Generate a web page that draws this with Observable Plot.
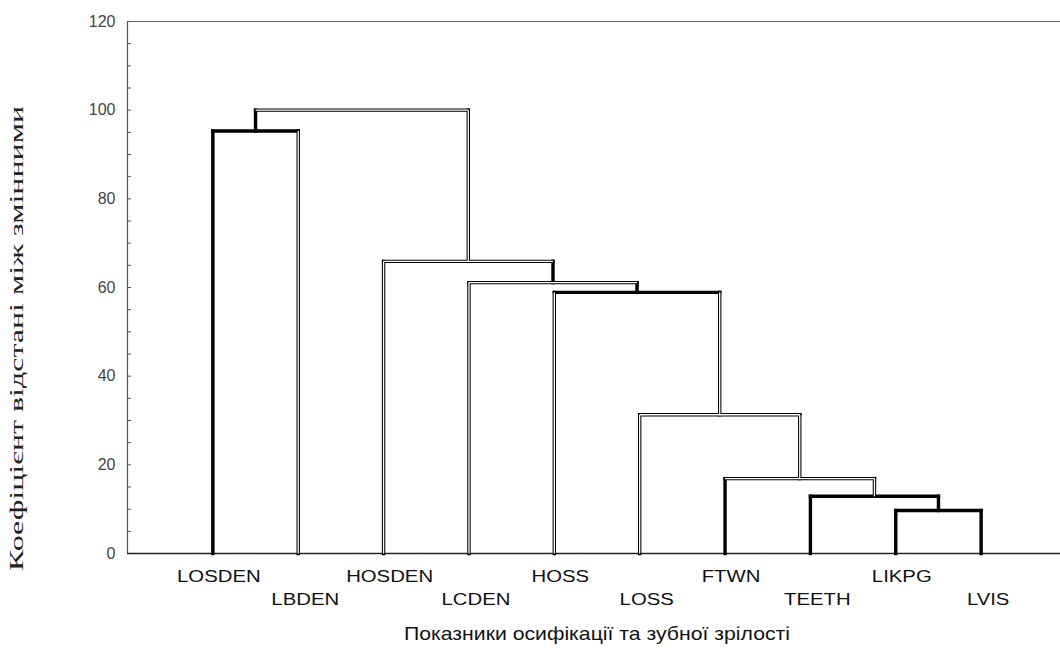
<!DOCTYPE html>
<html>
<head>
<meta charset="utf-8">
<script src="https://cdn.jsdelivr.net/npm/d3@7"></script>
<script src="https://cdn.jsdelivr.net/npm/@observablehq/plot@0.6"></script>
<style>
  body { margin: 0; background: #fff; }
  #chart svg { display: block; background: #fff; }
</style>
</head>
<body>
<div id="chart"></div>
<script>
// ---- data ----
const leaves = ["LOSDEN", "LBDEN", "HOSDEN", "LCDEN", "HOSS", "LOSS", "FTWN", "TEETH", "LIKPG", "LVIS"];
// agglomeration steps (cluster Ck is created by step k)
const mergeLeft   = ["LIKPG", "TEETH", "FTWN", "LOSS", "HOSS", "LCDEN", "HOSDEN", "LOSDEN", "C8"];
const mergeRight  = ["LVIS",  "C1",    "C2",   "C3",   "C4",   "C5",    "C6",     "LBDEN",  "C7"];
const mergeHeight = [9.7, 12.9, 16.9, 31.3, 58.9, 61.1, 65.9, 95.3, 100.0];
const yTickLabels = [0, 20, 40, 60, 80, 100, 120];
const yMinorTicks = [0, 5, 10, 15, 20, 25, 30, 35, 40, 45, 50, 55, 60, 65, 70, 75, 80, 85, 90, 95, 100, 105, 110, 115, 120];
const yTitle = "Коефіцієнт відстані між змінними";
const xTitle = "Показники осифікації та зубної зрілості";

// ---- style config: segments drawn as hollow (double) lines ----
const hollowKeys = new Set(["LBDEN", "C7", "HOSDEN", "LCDEN", "HOSS", "C4", "LOSS", "C3", "C2",
                            "C3h", "C4h", "C6h", "C7h", "C9h"]);

// ---- build dendrogram segments from the tree ----
const nodePos = new Map();
leaves.forEach((n, i) => nodePos.set(n, {x: i + 1, y: 0}));
const segs = [];
mergeHeight.forEach((h, i) => {
  const id = "C" + (i + 1);
  const L = nodePos.get(mergeLeft[i]), R = nodePos.get(mergeRight[i]);
  segs.push({x1: L.x, x2: L.x, y1: L.y, y2: h, key: mergeLeft[i]});
  segs.push({x1: R.x, x2: R.x, y1: R.y, y2: h, key: mergeRight[i]});
  segs.push({x1: L.x, x2: R.x, y1: h, y2: h, key: id + "h"});
  nodePos.set(id, {x: (L.x + R.x) / 2, y: h});
});
const hollowSegs = segs.filter(s => hollowKeys.has(s.key));
const leafRows = leaves.map((d, i) => ({name: d, x: i + 1, row: i % 2}));

const chart = Plot.plot({
  width: 1060,
  height: 653,
  marginLeft: 127,
  marginRight: -6,
  marginTop: 21,
  marginBottom: 100,
  style: {fontFamily: "'Liberation Sans', Arial, sans-serif", background: "#fff"},
  x: {domain: [0, 11], axis: null},
  y: {domain: [0, 120], axis: null},
  marks: [
    // frame: top and left lines
    Plot.ruleY([120], {x1: 0, x2: 11, stroke: "#666", strokeWidth: 1}),
    Plot.ruleX([0], {y1: 0, y2: 120, stroke: "#555", strokeWidth: 1.2}),
    // minor ticks
    Plot.axisY(yMinorTicks, {anchor: "left", tickSize: -4, stroke: "#555", tickFormat: () => ""}),
    // tick labels
    Plot.axisY(yTickLabels, {anchor: "left", tickSize: 0, tickPadding: 12, fontSize: 16, fill: "#444",
      fontFamily: "'Liberation Sans Narrow', 'Liberation Sans', sans-serif"}),
    // baseline
    Plot.ruleY([0], {x1: 0, x2: 11, stroke: "#222", strokeWidth: 1.6}),
    // dendrogram
    Plot.link(segs, {x1: "x1", y1: "y1", x2: "x2", y2: "y2", stroke: "#000", strokeWidth: 3.4, strokeLinecap: "square"}),
    Plot.link(hollowSegs, {x1: "x1", y1: "y1", x2: "x2", y2: "y2", stroke: "#fff", strokeWidth: 1.3, strokeLinecap: "butt"}),
    // leaf labels, staggered
    Plot.text(leafRows.filter(d => d.row === 0), {x: "x", y: () => 0, text: "name", dx: 6, dy: 23, fontSize: 16, fill: "#111"}),
    Plot.text(leafRows.filter(d => d.row === 1), {x: "x", y: () => 0, text: "name", dx: 7, dy: 46, fontSize: 16, fill: "#111"}),
    // axis titles
    Plot.text([xTitle], {frameAnchor: "bottom", textAnchor: "middle", dy: 86, fontSize: 19, fill: "#111",
      fontFamily: "'Liberation Sans Narrow', 'Liberation Sans', sans-serif"}),
    Plot.text([yTitle], {frameAnchor: "left", textAnchor: "middle", rotate: -90, dx: -110, dy: 51, fontSize: 18, fill: "#222",
      fontFamily: "'Liberation Serif', 'Times New Roman', serif"})
  ]
});

document.getElementById("chart").appendChild(chart);

// stretch texts horizontally like the (wide) scanned original
d3.select(chart).selectAll("text").each(function () {
  const t = this.textContent;
  if (t === yTitle) {
    this.setAttribute("textLength", 465);
    this.setAttribute("lengthAdjust", "spacingAndGlyphs");
  } else if (t === xTitle) {
    this.setAttribute("textLength", 386);
    this.setAttribute("lengthAdjust", "spacingAndGlyphs");
  } else if (leaves.includes(t)) {
    const w = this.getComputedTextLength();
    this.setAttribute("textLength", (w * 1.27).toFixed(1));
    this.setAttribute("lengthAdjust", "spacingAndGlyphs");
  }
});
</script>
</body>
</html>
